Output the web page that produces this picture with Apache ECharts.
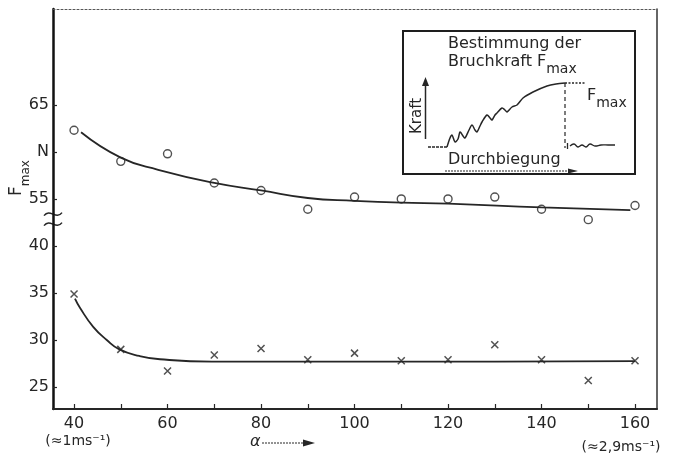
<!DOCTYPE html>
<html><head><meta charset="utf-8">
<script src="https://cdn.jsdelivr.net/npm/echarts@6/dist/echarts.min.js"></script>
<style>html,body{margin:0;padding:0;background:#fff}#c{width:673px;height:461px}</style>
</head><body><div id="c"></div>
<script>
// ---- data ----
const xPositions   = [40, 50, 60, 70, 80, 90, 100, 110, 120, 130, 140, 150, 160];
const fmaxCircles  = [62.3, 59.0, 59.8, 56.7, 55.9, 53.9, 55.2, 55.0, 55.0, 55.2, 53.9, 52.8, 54.3];
const fmaxCrosses  = [34.9, 29.0, 26.7, 28.4, 29.1, 27.9, 28.6, 27.8, 27.9, 29.5, 27.9, 25.7, 27.8];
const upperFitX    = [41.5, 50, 58, 70, 80, 90, 100, 110, 120, 140, 159];
const upperFitY    = [62.1, 59.4, 58.1, 56.7, 55.9, 55.1, 54.8, 54.6, 54.5, 54.1, 53.8];
const lowerFitX    = [40.2, 41.3, 44.1, 47, 49.7, 54, 58.4, 69.5, 100, 130, 160];
const lowerFitY    = [34.4, 33.4, 31.4, 30.0, 29.0, 28.3, 27.95, 27.7, 27.7, 27.7, 27.75];
const yTickValues  = [25, 30, 35, 40, 55, 60, 65];
const yTickLabels  = ['25', '30', '35', '40', '55', 'N', '65'];
const xLabelValues = [40, 60, 80, 100, 120, 140, 160];
const xTickValues  = [40, 50, 60, 70, 80, 90, 100, 110, 120, 130, 140, 150, 160];
const breakFrom = 40, breakTo = 55;          // axis is broken between 40 and 55
const breakShift = (breakTo - breakFrom) - 5; // 15 units drawn as one 5-unit step

// ---- helpers ----
const disp = v => (v >= breakTo - 5 + 2 ? v - breakShift : v);
const INK = '#262626';
const FONT = 'DejaVu Sans';

const chart = echarts.init(document.getElementById('c'), null, {renderer: 'canvas'});
const yDispTicks = yTickValues.map(disp);
const labelMap = {};
yTickValues.forEach((v, i) => { labelMap[disp(v)] = yTickLabels[i]; });

const xSym = 'path://M0,0L10,10M10,0L0,10';

chart.setOption({
  backgroundColor: '#ffffff',
  animation: false,
  grid: {left: 53, right: 16, top: 9, bottom: 52, containLabel: false, outerBoundsMode: 'none'},
  xAxis: [{
    type: 'value', min: 35.5, max: 164.7,
    axisLine: {lineStyle: {color: INK, width: 2}},
    axisTick: {inside: true, length: 5, customValues: xTickValues, lineStyle: {color: INK, width: 1.2}},
    axisLabel: {customValues: xLabelValues, margin: 7, color: INK, fontFamily: FONT, fontSize: 16},
    splitLine: {show: false}
  }, {
    type: 'value', position: 'top', min: 35.5, max: 164.7,
    axisLine: {show: true, lineStyle: {color: '#555', width: 1, type: [2, 2]}},
    axisTick: {show: false}, axisLabel: {show: false}, splitLine: {show: false}
  }],
  yAxis: [{
    type: 'value', min: 22.66, max: 65.2,
    axisLine: {lineStyle: {color: '#111', width: 2.5}},
    axisTick: {inside: true, length: 4, customValues: yDispTicks, lineStyle: {color: INK, width: 1.2}},
    axisLabel: {customValues: yDispTicks, margin: 4, color: INK, fontFamily: FONT, fontSize: 16,
      formatter: v => labelMap[v] !== undefined ? labelMap[v] : ''},
    splitLine: {show: false}
  }, {
    type: 'value', position: 'right', min: 22.66, max: 65.2,
    axisLine: {show: true, lineStyle: {color: '#333', width: 1.5}},
    axisTick: {show: false}, axisLabel: {show: false}, splitLine: {show: false}
  }],
  series: [
    {type: 'line', smooth: 0.5, showSymbol: false, silent: true,
     data: upperFitX.map((x, i) => [x, disp(upperFitY[i])]),
     lineStyle: {color: INK, width: 1.8}},
    {type: 'line', smooth: 0.5, showSymbol: false, silent: true,
     data: lowerFitX.map((x, i) => [x, disp(lowerFitY[i])]),
     lineStyle: {color: INK, width: 1.8}},
    {type: 'scatter', symbol: 'circle', symbolSize: 8,
     data: xPositions.map((x, i) => [x, disp(fmaxCircles[i])]),
     itemStyle: {color: '#fff', borderColor: INK, borderWidth: 1.4}},
    {type: 'scatter', symbol: xSym, symbolSize: 7,
     data: xPositions.map((x, i) => [x, disp(fmaxCrosses[i])]),
     itemStyle: {color: 'none', borderColor: INK, borderWidth: 1.5}}
  ]
});

// ---- decorations: axis break, axis captions, inset sketch ----
const ax = chart.convertToPixel({xAxisIndex: 0}, 35.5);
const yb = chart.convertToPixel({yAxisIndex: 0}, 42.8);
const x40 = chart.convertToPixel({xAxisIndex: 0}, 40);
const x160 = chart.convertToPixel({xAxisIndex: 0}, 160);
const ln = {stroke: INK, lineWidth: 1.5, fill: null};

function wave(y) {
  return {type: 'bezierCurve', shape: {x1: ax - 9, y1: y + 1, cpx1: ax - 3, cpy1: y - 7, cpx2: ax + 3, cpy2: y + 6, x2: ax + 9, y2: y - 2}, style: ln};
}

const insetCurve = [[447,147],[450,138],[452,135],[455,142],[458,139],[460,132],[463,136],[465,138],[469,130],[472,125],[475,130],[477,132],[480,126],[482,122],[487,115],[490,118],[492,120],[495,115],[497,113],[502,108],[505,110],[507,112],[512,107],[517,105],[523,98],[533,92],[547,86],[556,84],[565,83]];
const insetTail = [[570,146],[574,144],[578,147],[582,145],[586,147],[590,144],[595,146],[601,145],[608,145],[615,145]];

const subRich = (big, small) => ({
  f: {fontSize: big, fontFamily: FONT, fill: INK, color: INK, lineHeight: big + 6, verticalAlign: 'top'},
  s: {fontSize: small, fontFamily: FONT, fill: INK, color: INK, lineHeight: big + 6, verticalAlign: 'bottom'}
});

chart.setOption({
  graphic: [
    {type: 'rect', shape: {x: ax - 5, y: yb - 3, width: 10, height: 6}, style: {fill: '#fff'}},
    wave(yb - 5), wave(yb + 5),
    // y title
    {type: 'text', x: 20, y: 178, rotation: Math.PI / 2,
     style: {text: '{f|F}{s|max}', rich: subRich(17, 12), align: 'center', verticalAlign: 'middle'}},
    // x captions
    {type: 'text', x: x40 + 4, y: 441, style: {text: '(≈1ms⁻¹)', font: '14px ' + FONT, fill: INK, align: 'center', verticalAlign: 'middle'}},
    {type: 'text', x: x160 - 14, y: 447, style: {text: '(≈2,9ms⁻¹)', font: '14px ' + FONT, fill: INK, align: 'center', verticalAlign: 'middle'}},
    {type: 'text', x: 250, y: 442, style: {text: 'α', font: 'italic 16px ' + FONT, fill: INK, align: 'left', verticalAlign: 'middle'}},
    {type: 'line', shape: {x1: 262, y1: 443, x2: 305, y2: 443}, style: {stroke: INK, lineWidth: 1, lineDash: [2, 1]}},
    {type: 'polygon', shape: {points: [[303, 439.5], [315, 443], [303, 446.5]]}, style: {fill: INK}},
    // inset box
    {type: 'rect', shape: {x: 403, y: 31, width: 232, height: 143}, style: {fill: '#fff', stroke: '#1e1e1e', lineWidth: 2}},
    {type: 'text', x: 448, y: 36, style: {text: 'Bestimmung der', font: '16px ' + FONT, fill: INK, align: 'left', verticalAlign: 'top'}},
    {type: 'text', x: 448, y: 54, style: {text: '{f|Bruchkraft F}{s|max}', rich: subRich(16, 14), align: 'left', verticalAlign: 'top'}},
    // Kraft axis
    {type: 'line', shape: {x1: 425.5, y1: 139, x2: 425.5, y2: 84}, style: {stroke: INK, lineWidth: 1.5}},
    {type: 'polygon', shape: {points: [[422, 86], [425.5, 77], [429, 86]]}, style: {fill: INK}},
    {type: 'text', x: 417, y: 116, rotation: Math.PI / 2, style: {text: 'Kraft', font: '15px ' + FONT, fill: INK, align: 'center', verticalAlign: 'middle'}},
    // sketch curve
    {type: 'line', shape: {x1: 428, y1: 147, x2: 447, y2: 147}, style: {stroke: INK, lineWidth: 1.3, lineDash: [3, 1]}},
    {type: 'polyline', shape: {points: insetCurve, smooth: 0.3}, style: {stroke: INK, lineWidth: 1.5, fill: null}},
    {type: 'line', shape: {x1: 565, y1: 83, x2: 586, y2: 83}, style: {stroke: INK, lineWidth: 1.3, lineDash: [2, 1.5]}},
    {type: 'line', shape: {x1: 565, y1: 83, x2: 565, y2: 148}, style: {stroke: INK, lineWidth: 1.2, lineDash: [4, 3]}},
    {type: 'line', shape: {x1: 567.5, y1: 143, x2: 567.5, y2: 149}, style: {stroke: INK, lineWidth: 1.3}},
    {type: 'polyline', shape: {points: insetTail, smooth: 0.4}, style: {stroke: INK, lineWidth: 1.3, fill: null}},
    {type: 'text', x: 587, y: 88, style: {text: '{f|F}{s|max}', rich: subRich(16, 14), align: 'left', verticalAlign: 'top'}},
    {type: 'text', x: 448, y: 152, style: {text: 'Durchbiegung', font: '16px ' + FONT, fill: INK, align: 'left', verticalAlign: 'top'}},
    {type: 'line', shape: {x1: 445, y1: 171, x2: 570, y2: 171}, style: {stroke: INK, lineWidth: 1, lineDash: [2, 1]}},
    {type: 'polygon', shape: {points: [[568, 168.5], [578, 171], [568, 173.5]]}, style: {fill: INK}}
  ]
});
</script>
</body></html>
